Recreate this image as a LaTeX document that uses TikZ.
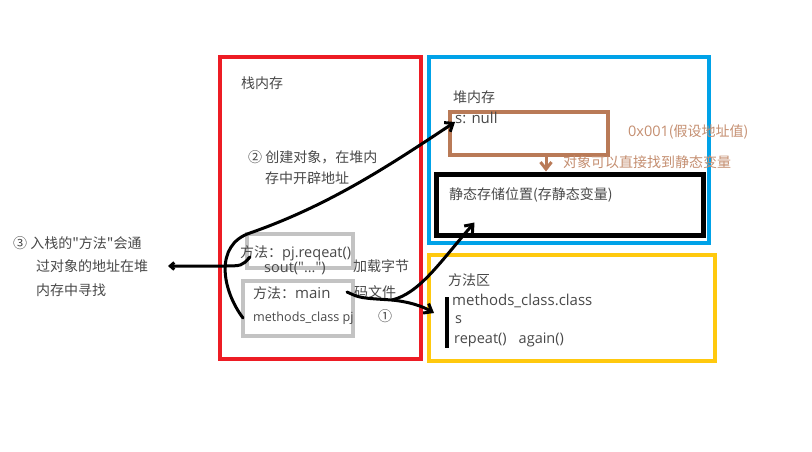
\documentclass[tikz,border=0pt]{standalone}
\usepackage{fontspec}
\setmainfont{Noto Sans CJK SC}[Ligatures=TeXOff]
\newfontfamily\latinfont{Open Sans}[Ligatures=TeXOff]
\newcommand{\codefont}{\fontsize{14.5}{17}\selectfont\latinfont}
\newcommand{\smallcode}{\fontsize{12.6}{15}\selectfont\latinfont}
\newcommand{\largecode}{\fontsize{15}{17}\selectfont\latinfont}
\usetikzlibrary{arrows.meta,positioning,calc}
\definecolor{stackRed}{RGB}{237,28,36}
\definecolor{heapBlue}{RGB}{0,162,232}
\definecolor{methodYellow}{RGB}{255,201,14}
\definecolor{addrBrown}{RGB}{185,122,87}
\definecolor{frameGray}{RGB}{195,195,195}
\definecolor{noteGray}{RGB}{72,72,72}
\tikzset{
  >={Straight Barb[length=7pt,width=11pt]},
  memArea/.style={rectangle,draw,line width=4pt,inner sep=0pt},
  slotBox/.style={rectangle,draw=frameGray,line width=4pt,inner sep=0pt},
  memLabel/.style={anchor=west,inner sep=0pt,text=noteGray,font=\fontsize{14}{16}\selectfont},
  codeLabel/.style={memLabel,font=\codefont},
  addrLabel/.style={memLabel,text=addrBrown!85},
  handLine/.style={draw=black,line width=3pt,line cap=round,line join=round},
  addrLink/.style={draw=addrBrown,line width=3pt},
}

\begin{document}
\begin{tikzpicture}[x=1pt,y=-1pt]
\useasboundingbox (0,0) rectangle (812,451);

% ===== Memory areas =====
\node[memArea, draw=stackRed, minimum width=201pt, minimum height=302pt] (stackMem) at (320.5,208) {};
\node[memArea, draw=heapBlue, minimum width=280pt, minimum height=186pt] (heapMem) at (569,150) {};
\node[memArea, draw=methodYellow, minimum width=286pt, minimum height=106pt] (methodArea) at (572,308) {};

% ===== Heap contents =====
\node[memArea, draw=addrBrown, minimum width=158pt, minimum height=43pt] (sNullBox) at (529,133.5) {};
\node[memArea, line width=5pt, minimum width=267pt, minimum height=61pt] (staticBox) at (569.5,204.5) {};

% ===== Stack frames =====
\node[slotBox, minimum width=106pt, minimum height=34pt] (repeatBox) at (300,251) {};
\node[slotBox, minimum width=110pt, minimum height=55pt] (mainBox) at (298,308.5) {};

% ===== Texts =====
\node[memLabel] (stackTitle) at (241,83) {栈内存};
\node[memLabel] (stepTwoA) at (248,157) {② 创建对象，在堆内};
\node[memLabel] (stepTwoB) at (265,178) {存中开辟地址};
\node[memLabel] (repeatText) at (240,253) {方法：{\codefont pj.reqeat()}};
\node[codeLabel] (soutText) at (264,268) {sout("...")};
\node[memLabel] (mainText) at (253,293) {方法：{\largecode main}};
\node[codeLabel, font=\smallcode] (pjText) at (253,318) {methods\_class pj};
\node[memLabel] (loadA) at (353,266) {加载字节};
\node[memLabel] (loadB) at (354,292) {码文件};
\node[memLabel] (stepOne) at (378,316) {①};

\node[memLabel] (stepThreeA) at (13,243) {③ 入栈的"方法"会通};
\node[memLabel] (stepThreeB) at (36,266) {过对象的地址在堆};
\node[memLabel] (stepThreeC) at (36,290) {内存中寻找};

\node[memLabel] (heapTitle) at (453,97) {堆内存};
\node[codeLabel, font=\largecode] (sNullText) at (455,118) {s: null};
\node[addrLabel] (addrText) at (628,132) {{\codefont 0x001}(假设地址值)};
\node[addrLabel] (staticNote) at (563,162) {对象可以直接找到静态变量};
\node[memLabel] (staticText) at (449,195) {静态存储位置(存静态变量)};

\node[memLabel] (methodTitle) at (448,280) {方法区};
\node[codeLabel, font=\largecode] (classText) at (452,301) {methods\_class.class};
\node[codeLabel] (sField) at (455,320) {s};
\node[codeLabel] (methodsText) at (454,340) {repeat()\hspace{12pt}again()};
\draw[line width=3.5pt] ($(methodArea.west)+(20,-11)$) -- ++(0,51);

% ===== Connections =====
\coordinate (pjStart) at (243,318);
\coordinate (sNullTip) at ($(sNullBox.north west)+(7,12)$);
\draw[handLine,->] (pjStart) .. controls (222,290) and (214,245) .. (250,233)
  .. controls (330,205) and (390,165) .. (sNullTip);

\coordinate (lookupStart) at (250,257);
\coordinate (lookupTip) at (168,266);
\draw[handLine,-{Straight Barb[length=4pt,width=7pt]}] (lookupStart) .. controls (242,266) .. (222,266) -- (lookupTip);

\coordinate (mainRef) at (347,292);
\coordinate (byteFork) at (392,300);
\coordinate (loadTip) at ($(methodArea.west)+(7,5)$);
\coordinate (staticTip) at ($(staticBox.south west)+(41,-15)$);
\draw[handLine] (mainRef) .. controls (360,298) .. (byteFork);
\draw[handLine,->] (byteFork) .. controls (410,302) and (422,306) .. (loadTip);
\draw[handLine,->] (byteFork) .. controls (420,293) and (440,262) .. (staticTip);

\coordinate (addrStart) at ($(sNullBox.south)+(17,0)$);
\draw[addrLink,->] (addrStart) -- (addrStart |- staticBox.north);

\end{tikzpicture}
\end{document}
